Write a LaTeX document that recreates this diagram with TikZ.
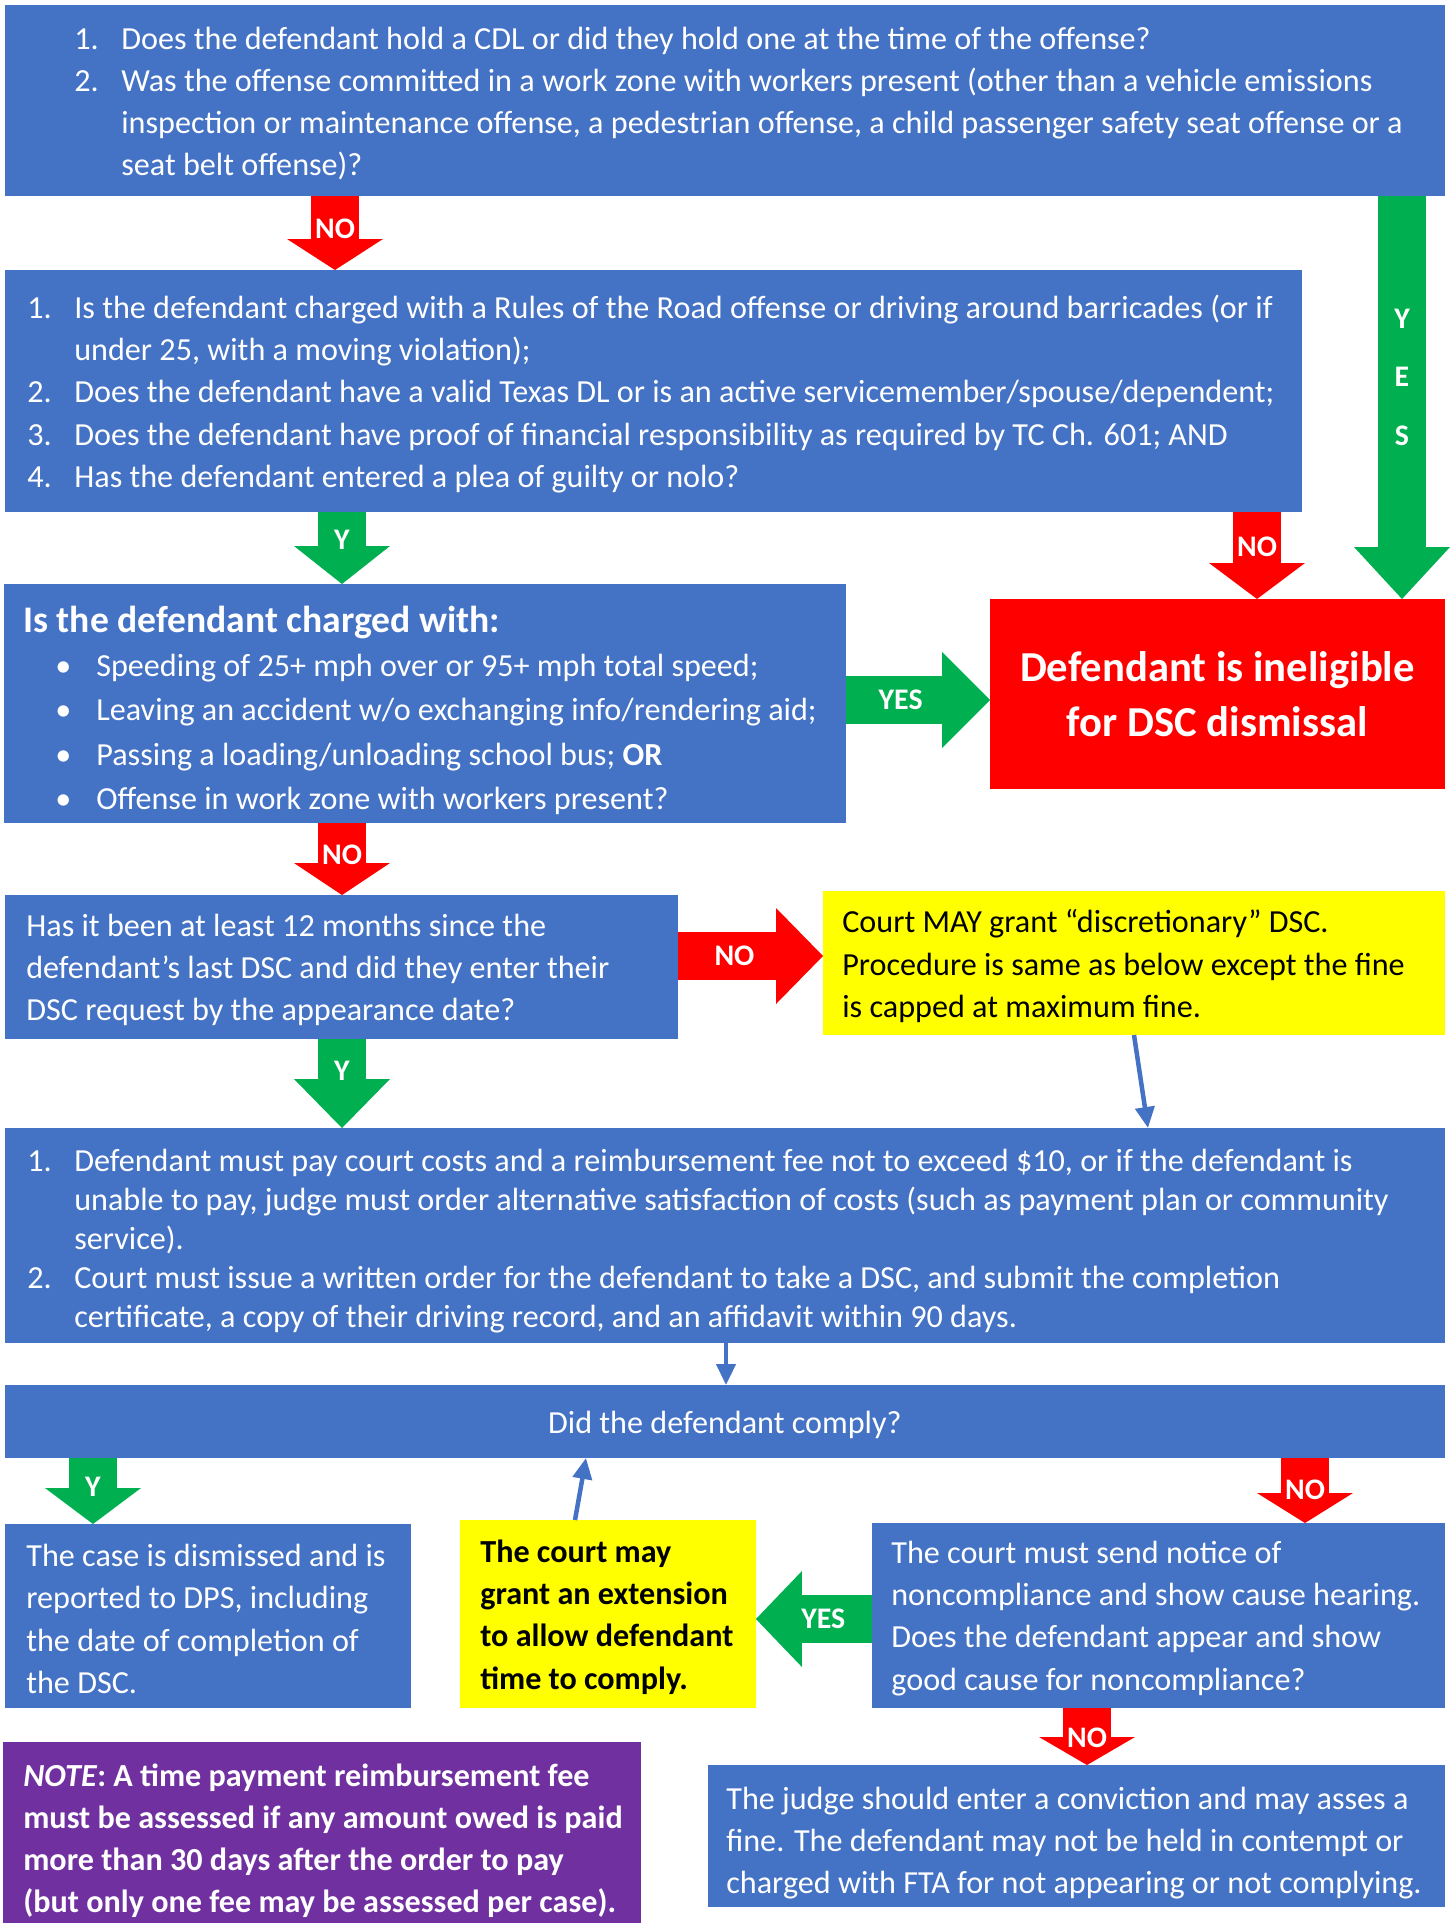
\documentclass[tikz,border=0pt]{standalone}
\usepackage{fontspec}
\setmainfont{Carlito}
\usetikzlibrary{arrows.meta}

\definecolor{boxblue}{HTML}{4472C4}
\definecolor{nored}{HTML}{FF0000}
\definecolor{yesgreen}{HTML}{00B050}
\definecolor{hiyellow}{HTML}{FFFF00}
\definecolor{notepurple}{HTML}{7030A0}

\newcommand\bodyfont{\fontsize{18.3}{24}\selectfont}
\newcommand\itm[1]{\makebox[0.94cm][l]{#1}}
\newcommand\cont{\hspace*{0.94cm}}
\newcommand\blt{\hspace*{0.64cm}\makebox[0.82cm][l]{\textbullet}}

\tikzset{
  box/.style={anchor=north west, inner sep=0pt, outer sep=0pt},
  txt/.style={anchor=west, inner sep=0pt, align=left, text=white, font=\bodyfont, yshift=-0.06cm},
  lbl/.style={inner sep=0pt, text=white, font=\bfseries\fontsize{17}{20}\selectfont},
  fat/.style 2 args={draw=#1, line width=0.96cm, -{Triangle[width=1.92cm, length=#2, line width=0pt]}},
  link/.style={draw=boxblue, line width=0.09cm, -{Triangle[width=0.38cm, length=0.42cm]}},
}

\begin{document}
\begin{tikzpicture}[x=0.02cm, y=-0.02cm]
\useasboundingbox (0,0) rectangle (1450,1923);

\node[box, fill=boxblue, minimum width=28.8cm, minimum height=3.82cm] (q1) at (5,5) {};
\node[txt] (q1t) at ([xshift=1.38cm]q1.west) {\itm{1.}Does the defendant hold a CDL or did they hold one at the time of the offense?\\
\itm{2.}Was the offense committed in a work zone with workers present (other than a vehicle emissions\\
\cont inspection or maintenance offense, a pedestrian offense, a child passenger safety seat offense or a\\
\cont seat belt offense)?};

\node[box, fill=boxblue, minimum width=25.94cm, minimum height=4.84cm] (q2) at (5,270) {};
\node[txt] (q2t) at ([xshift=0.44cm]q2.west) {\itm{1.}Is the defendant charged with a Rules of the Road offense or driving around barricades (or if\\
\cont under 25, with a moving violation);\\
\itm{2.}Does the defendant have a valid Texas DL or is an active servicemember/spouse/dependent;\\
\itm{3.}Does the defendant have proof of financial responsibility as required by TC Ch. 601; AND\\
\itm{4.}Has the defendant entered a plea of guilty or nolo?};

\node[box, fill=boxblue, minimum width=16.84cm, minimum height=4.78cm] (q3) at (4,584) {};
\node[txt, font=\fontsize{18.3}{25.2}\selectfont] (q3t) at ([xshift=0.38cm, yshift=-0.075cm]q3.west) {{\bfseries\fontsize{21.4}{24}\selectfont Is the defendant charged with:}\\[0pt]
\blt Speeding of 25+ mph over or 95+ mph total speed;\\
\blt Leaving an accident w/o exchanging info/rendering aid;\\
\blt Passing a loading/unloading school bus; \textbf{OR}\\
\blt Offense in work zone with workers present?};

\node[box, fill=nored, minimum width=9.1cm, minimum height=3.8cm] (inel) at (990,599) {};
\node[text=white, align=center, font=\bfseries\fontsize{24.3}{31}\selectfont] (inelt) at (inel.center) {Defendant is ineligible\\for DSC dismissal};

\node[box, fill=boxblue, minimum width=13.46cm, minimum height=2.88cm] (q4) at (5,895) {};
\node[txt] (q4t) at ([xshift=0.42cm]q4.west) {Has it been at least 12 months since the\\
defendant’s last DSC and did they enter their\\
DSC request by the appearance date?};

\node[box, fill=hiyellow, minimum width=12.44cm, minimum height=2.88cm] (y1) at (823,891) {};
\node[txt, text=black] (y1t) at ([xshift=0.38cm]y1.west) {Court MAY grant “discretionary” DSC.\\
Procedure is same as below except the fine\\
is capped at maximum fine.};

\node[box, fill=boxblue, minimum width=28.8cm, minimum height=4.3cm] (q5) at (5,1128) {};
\node[txt, font=\fontsize{18.3}{22.3}\selectfont] (q5t) at ([xshift=0.44cm, yshift=-0.05cm]q5.west) {\itm{1.}Defendant must pay court costs and a reimbursement fee not to exceed \$10, or if the defendant is\\
\cont unable to pay, judge must order alternative satisfaction of costs (such as payment plan or community\\
\cont service).\\
\itm{2.}Court must issue a written order for the defendant to take a DSC, and submit the completion\\
\cont certificate, a copy of their driving record, and an affidavit within 90 days.};

\node[box, fill=boxblue, minimum width=28.8cm, minimum height=1.46cm] (q6) at (5,1385) {};
\node[txt, anchor=center] (q6t) at (q6.center) {Did the defendant comply?};

\node[box, fill=boxblue, minimum width=8.12cm, minimum height=3.68cm] (q7) at (5,1524) {};
\node[txt] (q7t) at ([xshift=0.42cm]q7.west) {The case is dismissed and is\\
reported to DPS, including\\
the date of completion of\\
the DSC.};

\node[box, fill=hiyellow, minimum width=5.92cm, minimum height=3.76cm] (y2) at (460,1520) {};
\node[txt, text=black, font=\bodyfont\bfseries] (y2t) at ([xshift=0.4cm]y2.west) {The court may\\
grant an extension\\
to allow defendant\\
time to comply.};

\node[box, fill=boxblue, minimum width=11.46cm, minimum height=3.7cm] (q8) at (872,1523) {};
\node[txt] (q8t) at ([xshift=0.38cm]q8.west) {The court must send notice of\\
noncompliance and show cause hearing.\\
Does the defendant appear and show\\
good cause for noncompliance?};

\node[box, fill=notepurple, minimum width=12.76cm, minimum height=3.62cm] (note) at (3,1742) {};
\node[txt, font=\bodyfont\bfseries] (notet) at ([xshift=0.4cm, yshift=-0.1cm]note.west) {\textit{NOTE}: A time payment reimbursement fee\\
must be assessed if any amount owed is paid\\
more than 30 days after the order to pay\\
(but only one fee may be assessed per case).};

\node[box, fill=boxblue, minimum width=14.74cm, minimum height=2.84cm] (q9) at (708,1765) {};
\node[txt] (q9t) at ([xshift=0.36cm, yshift=-0.08cm]q9.west) {The judge should enter a conviction and may asses a\\
fine. The defendant may not be held in contempt or\\
charged with FTA for not appearing or not complying.};

\draw[fat={nored}{0.62cm}] (q1.south -| 335,0) -- (q2.north -| 335,0) node[lbl, pos=0.45] {NO};
\draw[fat={yesgreen}{1.04cm}] (q1.south -| 1402,0) -- (inel.north -| 1402,0)
  node[lbl, pos=0.45, align=center, font=\bfseries\fontsize{17}{33.5}\selectfont] {Y\\E\\S};
\draw[fat={yesgreen}{0.76cm}] (q2.south -| 342,0) -- (q3.north -| 342,0) node[lbl, pos=0.39] {Y};
\draw[fat={nored}{0.72cm}] (q2.south -| 1257,0) -- (inel.north -| 1257,0) node[lbl, pos=0.4] {NO};
\draw[fat={yesgreen}{0.96cm}] (q3.east |- 0,700) -- (inel.west |- 0,700) node[lbl, pos=0.38] {YES};
\draw[fat={nored}{0.64cm}] (q3.south -| 342,0) -- (q4.north -| 342,0) node[lbl, pos=0.44] {NO};
\draw[fat={nored}{0.94cm}] (q4.east |- 0,956) -- (y1.west |- 0,956) node[lbl, pos=0.39] {NO};
\draw[fat={yesgreen}{0.98cm}] (q4.south -| 342,0) -- (q5.north -| 342,0) node[lbl, pos=0.36] {Y};
\draw[link] (y1.south -| 1134,0) -- (q5.north -| 1148,0);
\draw[link] (q5.south -| 726,0) -- (q6.north -| 726,0);
\draw[fat={yesgreen}{0.72cm}] (q6.south -| 93,0) -- (q7.north -| 93,0) node[lbl, pos=0.44] {Y};
\draw[fat={nored}{0.6cm}] (q6.south -| 1305,0) -- (q8.north -| 1305,0) node[lbl, pos=0.49] {NO};
\draw[link] (y2.north -| 575,0) -- (q6.south -| 586,0);
\draw[fat={yesgreen}{0.92cm}] (q8.west |- 0,1619) -- (y2.east |- 0,1619) node[lbl, pos=0.42] {YES};
\draw[fat={nored}{0.56cm}] (q8.south -| 1087,0) -- (q9.north -| 1087,0) node[lbl, pos=0.52] {NO};
\end{tikzpicture}
\end{document}
